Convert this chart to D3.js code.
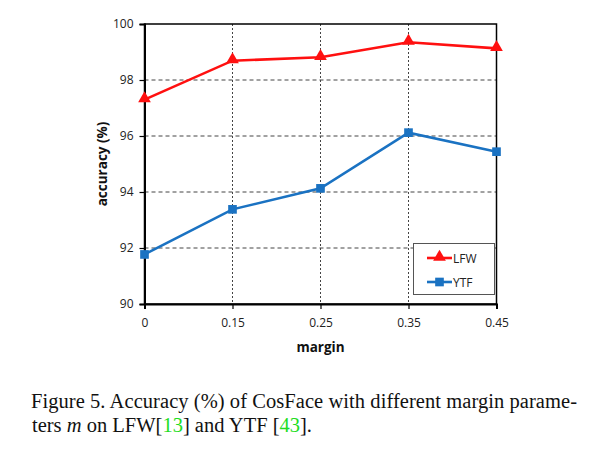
<!DOCTYPE html>
<html><head><meta charset="utf-8">
<script src="https://cdn.jsdelivr.net/npm/d3@7"></script>
<style>body{margin:0;background:#fff}</style>
</head><body>
<svg id="c" width="607" height="459"></svg>
<script>
const margins = ["0","0.15","0.25","0.35","0.45"];
const lfw = [97.3, 98.69, 98.81, 99.35, 99.13];
const ytf = [91.77, 93.38, 94.13, 96.12, 95.44];
const yTicks = [90, 92, 94, 96, 98, 100];

const svg = d3.select("#c");
const L = 144.5, R = 496.5, T = 24, B = 304;
const x = d3.scalePoint().domain(margins).range([L, R]);
const y = d3.scaleLinear().domain([90, 100]).range([B, T]);
const font = "'Open Sans', 'Liberation Sans', sans-serif";

// grid
const g = svg.append("g");
g.selectAll(".hg").data(yTicks.slice(1, -1)).join("line")
  .attr("x1", L).attr("x2", R).attr("y1", d => y(d)).attr("y2", d => y(d))
  .attr("stroke", "#444").attr("stroke-width", 1).attr("stroke-dasharray", "4,3");
g.selectAll(".vg").data(margins.slice(1, -1)).join("line")
  .attr("x1", d => x(d)).attr("x2", d => x(d)).attr("y1", T).attr("y2", B)
  .attr("stroke", "#444").attr("stroke-width", 1).attr("stroke-dasharray", "2,2");

// frame
svg.append("rect").attr("x", L).attr("y", T).attr("width", R - L).attr("height", B - T)
  .attr("fill", "none").attr("stroke", "#000").attr("stroke-width", 1.5);

// axes
const ya = svg.append("g").attr("transform", `translate(${L},0)`)
  .call(d3.axisLeft(y).tickValues(yTicks).tickSize(5).tickPadding(6));
const xa = svg.append("g").attr("transform", `translate(0,${B})`)
  .call(d3.axisBottom(x).tickSize(5).tickPadding(9));
[ya, xa].forEach(a => {
  a.select(".domain").attr("stroke", "#000").attr("stroke-width", 2);
  a.selectAll("line").attr("stroke", "#000").attr("stroke-width", 1.2);
  a.selectAll("text").attr("font-family", font).attr("font-size", 12).attr("fill", "#222");
});

// axis titles
svg.append("text").attr("transform", `translate(107,${(T + B) / 2}) rotate(-90)`)
  .attr("text-anchor", "middle").attr("font-family", font).attr("font-weight", "bold")
  .attr("font-size", 13.5).attr("fill", "#111").text("accuracy (%)");
svg.append("text").attr("x", (L + R) / 2).attr("y", 352)
  .attr("text-anchor", "middle").attr("font-family", font).attr("font-weight", "bold")
  .attr("font-size", 13.5).attr("fill", "#111").text("margin");

// series
const line = d3.line().x((d, i) => x(margins[i])).y(d => y(d));
const tri = d3.symbol().type(d3.symbolTriangle).size(70);
const sq = d3.symbol().type(d3.symbolSquare).size(75);
const RED = "#ff1010", BLUE = "#1a72c2";

svg.append("path").datum(lfw).attr("d", line).attr("fill", "none").attr("stroke", RED).attr("stroke-width", 2.6);
svg.selectAll(".t").data(lfw).join("path").attr("d", tri)
  .attr("transform", (d, i) => `translate(${x(margins[i])},${y(d) - 1})`).attr("fill", RED);
svg.append("path").datum(ytf).attr("d", line).attr("fill", "none").attr("stroke", BLUE).attr("stroke-width", 2.6);
svg.selectAll(".s").data(ytf).join("path").attr("d", sq)
  .attr("transform", (d, i) => `translate(${x(margins[i])},${y(d)})`).attr("fill", BLUE);

// legend
svg.append("rect").attr("x", 413.5).attr("y", 243.5).attr("width", 81).attr("height", 51)
  .attr("fill", "#fff").attr("stroke", "#555").attr("stroke-width", 1);
const leg = [["LFW", RED, tri, 258], ["YTF", BLUE, sq, 282]];
leg.forEach(([n, c, s, yy]) => {
  svg.append("line").attr("x1", 427).attr("x2", 452).attr("y1", yy).attr("y2", yy).attr("stroke", c).attr("stroke-width", 2.6);
  svg.append("path").attr("d", s).attr("transform", `translate(439.5,${yy - (s === tri ? 1 : 0)})`).attr("fill", c);
  svg.append("text").attr("x", 453).attr("y", yy + 4.5).attr("font-family", font).attr("font-size", 12).attr("fill", "#222").text(n);
});

// caption
const cap = svg.append("g").attr("font-family", "'Liberation Serif', 'Times New Roman', serif").attr("font-size", 20.5).attr("fill", "#111");
cap.append("text").attr("x", 31).attr("y", 408).attr("textLength", 546).attr("lengthAdjust", "spacing")
  .text("Figure 5. Accuracy (%) of CosFace with different margin parame-");
const t2 = cap.append("text").attr("x", 32).attr("y", 432);
t2.append("tspan").text("ters ");
t2.append("tspan").attr("font-style", "italic").text("m");
t2.append("tspan").text(" on LFW[");
t2.append("tspan").attr("fill", "#22dd22").text("13");
t2.append("tspan").text("] and YTF [");
t2.append("tspan").attr("fill", "#22dd22").text("43");
t2.append("tspan").text("].");
</script>
</body></html>
